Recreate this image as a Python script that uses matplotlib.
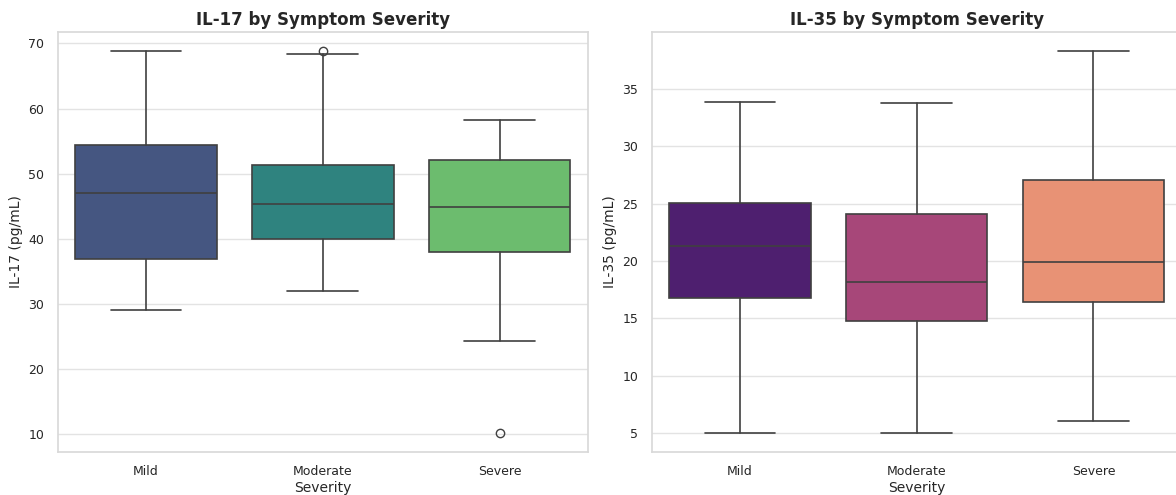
import matplotlib
matplotlib.use("Agg")
import matplotlib.pyplot as plt
import seaborn as sns

# ---------------------------------------------------------------------------
# Box summary values (pg/mL)
# ---------------------------------------------------------------------------
severity = ["Mild", "Moderate", "Severe"]

il17_whislo = [29.0, 32.0, 24.3]
il17_q1     = [36.9, 39.9, 37.9]
il17_med    = [47.0, 45.3, 44.9]
il17_q3     = [54.4, 51.3, 52.1]
il17_whishi = [68.8, 68.4, 58.2]
il17_fliers = [[], [68.8], [10.2]]

il35_whislo = [5.0, 5.0, 6.0]
il35_q1     = [16.8, 14.8, 16.4]
il35_med    = [21.3, 18.2, 19.9]
il35_q3     = [25.1, 24.1, 27.1]
il35_whishi = [33.9, 33.8, 38.3]
il35_fliers = [[], [], []]

sns.set_theme(style="whitegrid")
plt.rcParams['font.family'] = ['DejaVu Sans']

LINE = "#404040"


def make_stats(lo, q1, med, q3, hi, fl):
    return [dict(label=s, whislo=lo[i], q1=q1[i], med=med[i], q3=q3[i],
                 whishi=hi[i], fliers=fl[i])
            for i, s in enumerate(severity)]


def draw(ax, stats, palette, title, ylabel):
    colors = sns.color_palette(palette, 3, desat=0.75)
    pos = list(range(len(stats)))
    art = ax.bxp(stats, positions=pos, widths=0.8, patch_artist=True,
                 showfliers=True,
                 boxprops=dict(edgecolor=LINE, linewidth=1.2),
                 medianprops=dict(color=LINE, linewidth=1.2),
                 whiskerprops=dict(color=LINE, linewidth=1.2),
                 capprops=dict(color=LINE, linewidth=1.2),
                 flierprops=dict(marker='o', markerfacecolor='none',
                                 markeredgecolor=LINE, markersize=6,
                                 markeredgewidth=1.0))
    for patch, c in zip(art['boxes'], colors):
        patch.set_facecolor(c)
    # seaborn-style caps: half of the box width
    for i, cap in enumerate(art['caps']):
        x = pos[i // 2]
        cap.set_xdata([x - 0.2, x + 0.2])
    ax.set_xlim(-0.5, 2.5)
    ax.set_xticks(pos)
    ax.set_xticklabels(severity, fontsize=9)
    ax.tick_params(axis='y', labelsize=9)
    ax.set_title(title, fontsize=12, fontweight='bold', pad=5)
    ax.set_xlabel("Severity", fontsize=10, labelpad=2)
    ax.set_ylabel(ylabel, fontsize=10)
    ax.grid(True, axis='y', color='#e3e3e3', linewidth=1.0)
    ax.grid(False, axis='x')
    for sp in ax.spines.values():
        sp.set_color('#d9d9d9')


fig = plt.figure(figsize=(11.76, 4.95), dpi=100)
ax1 = fig.add_axes([0.049, 0.087, 0.451, 0.848])
ax2 = fig.add_axes([0.554, 0.087, 0.451, 0.848])

draw(ax1, make_stats(il17_whislo, il17_q1, il17_med, il17_q3, il17_whishi,
                     il17_fliers),
     "viridis", "IL-17 by Symptom Severity", "IL-17 (pg/mL)")
draw(ax2, make_stats(il35_whislo, il35_q1, il35_med, il35_q3, il35_whishi,
                     il35_fliers),
     "magma", "IL-35 by Symptom Severity", "IL-35 (pg/mL)")

ax1.set_yticks([10, 20, 30, 40, 50, 60, 70])
ax2.set_yticks([5, 10, 15, 20, 25, 30, 35])

fig.savefig("out.png", dpi=100)
